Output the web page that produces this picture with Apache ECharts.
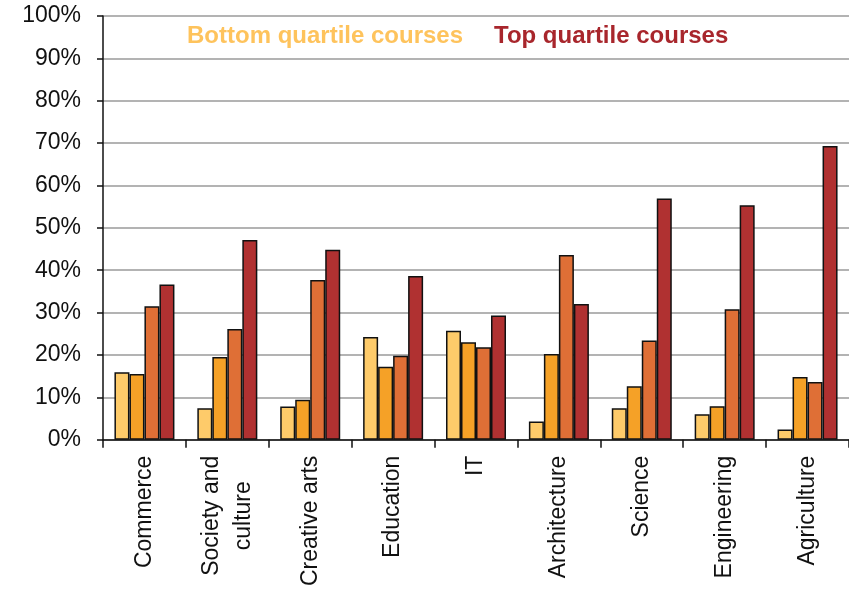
<!DOCTYPE html>
<html>
<head>
<meta charset="utf-8">
<script src="https://cdn.jsdelivr.net/npm/echarts@6/dist/echarts.min.js"></script>
<style>
  html, body { margin: 0; padding: 0; background: #fff; }
  #chart { width: 849px; height: 589px; }
</style>
</head>
<body>
<div id="chart"></div>
<script>
var categories = ['Commerce', 'Society and\nculture    ', 'Creative arts', 'Education', 'IT',
    'Architecture', 'Science', 'Engineering', 'Agriculture'];

// quartiles, bottom to top
var q1 = [15.9, 7.4, 7.8, 24.2, 25.7, 4.3, 7.4, 6.0, 2.4];
var q2 = [15.5, 19.5, 9.4, 17.2, 23.0, 20.2, 12.6, 7.9, 14.8];
var q3 = [31.5, 26.1, 37.7, 19.8, 21.8, 43.6, 23.4, 30.8, 13.6];
var q4 = [36.6, 47.1, 44.8, 38.6, 29.3, 32.0, 56.9, 55.3, 69.3];

var colors = ['#FECB6A', '#F5A127', '#DF6F36', '#B03131'];
var font = '"Liberation Sans", Arial, sans-serif';

var myChart = echarts.init(document.getElementById('chart'));

function bar(data, i) {
    return {
        type: 'bar',
        data: data,
        barWidth: 15,
        barGap: '0%',
        itemStyle: {
            color: colors[i],
            borderColor: '#111',
            borderWidth: 1.5
        }
    };
}

var option = {
    animation: false,
    grid: { left: 103, right: -4, top: 16, bottom: 148 },
    graphic: [
        {
            type: 'text', left: 187, top: 24,
            style: { text: 'Bottom quartile courses', fill: '#FEC35C',
                font: 'bold 24px ' + font }
        },
        {
            type: 'text', left: 494, top: 24,
            style: { text: 'Top quartile courses', fill: '#A8262C',
                font: 'bold 24px ' + font }
        }
    ],
    xAxis: {
        type: 'category',
        data: categories,
        axisLine: { lineStyle: { color: '#111', width: 1.5 } },
        axisTick: { show: true, length: 8, lineStyle: { color: '#111', width: 1.5 } },
        axisLabel: {
            rotate: 90,
            margin: 16,
            color: '#111',
            fontSize: 23,
            lineHeight: 32,
            fontFamily: font
        }
    },
    yAxis: {
        type: 'value',
        min: 0,
        max: 100,
        interval: 10,
        axisLine: { show: true, lineStyle: { color: '#111', width: 1.5 } },
        axisTick: { show: true, length: 6, lineStyle: { color: '#111', width: 1.5 } },
        axisLabel: {
            formatter: '{value}%',
            margin: 22,
            color: '#111',
            fontSize: 23,
            fontFamily: font
        },
        splitLine: { lineStyle: { color: '#9a9a9a', width: 1.5 } }
    },
    series: [bar(q1, 0), bar(q2, 1), bar(q3, 2), bar(q4, 3)]
};

myChart.setOption(option);
</script>
</body>
</html>
